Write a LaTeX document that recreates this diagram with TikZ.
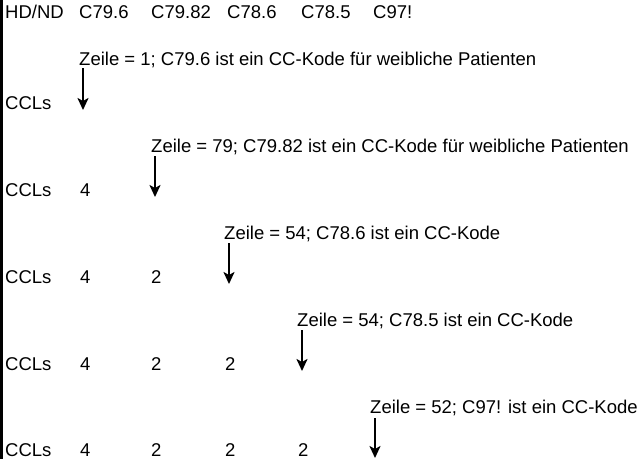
\documentclass[tikz,border=0pt]{standalone}
\usepackage{fontspec}
\setmainfont{Liberation Sans}
\usetikzlibrary{arrows.meta}
\begin{document}
\begin{tikzpicture}[x=1pt,y=-1pt,
  txt/.style={anchor=base west,inner sep=0pt,font=\fontsize{18.5}{21}\selectfont},
  ptr/.style={line width=2.6pt,-{Stealth[length=12pt,width=11pt,inset=3pt]}}]
\useasboundingbox (0,0) rectangle (640,459);
\coordinate (bt) at (1.5,0);
\coordinate (bb) at (1.5,459);
\draw[line width=2.5pt] (bt) -- (bb);
% header row
\node[txt] (h0) at (5,18) {HD/ND};
\node[txt] (h1) at (79,18) {C79.6};
\node[txt] (h2) at (151,18) {C79.82};
\node[txt] (h3) at (227,18) {C78.6};
\node[txt] (h4) at (301,18) {C78.5};
\node[txt] (h5) at (373,18) {C97!};
% annotations
\node[txt] (a1) at (79,65) {Zeile = 1; C79.6 ist ein CC-Kode für weibliche Patienten};
\node[txt] (a2) at (151,152) {Zeile = 79; C79.82 ist ein CC-Kode für weibliche Patienten};
\node[txt] (a3) at (224,239) {Zeile = 54; C78.6 ist ein CC-Kode};
\node[txt] (a4) at (297,326) {Zeile = 54; C78.5 ist ein CC-Kode};
\node[txt] (a5) at (370,413) {Zeile = 52; C97! ist ein CC-Kode};
% CCL rows
\node[txt] (r1) at (5,109) {CCLs};
\node[txt] (r2) at (5,196) {CCLs};
\node[txt] (r2a) at (80,196) {4};
\node[txt] (r3) at (5,283) {CCLs};
\node[txt] (r3a) at (80,283) {4};
\node[txt] (r3b) at (151,283) {2};
\node[txt] (r4) at (5,370) {CCLs};
\node[txt] (r4a) at (80,370) {4};
\node[txt] (r4b) at (151,370) {2};
\node[txt] (r4c) at (225,370) {2};
\node[txt] (r5) at (5,456.5) {CCLs};
\node[txt] (r5a) at (80,456.5) {4};
\node[txt] (r5b) at (151,456.5) {2};
\node[txt] (r5c) at (225,456.5) {2};
\node[txt] (r5d) at (298,456.5) {2};
% arrow ends
\coordinate (s1) at (83,68);  \coordinate (e1) at (83,110);
\coordinate (s2) at (155,156); \coordinate (e2) at (155,197);
\coordinate (s3) at (229,243); \coordinate (e3) at (229,284);
\coordinate (s4) at (302,330); \coordinate (e4) at (302,371);
\coordinate (s5) at (375,418); \coordinate (e5) at (375,458);
\draw[ptr] (s1) -- (e1);
\draw[ptr] (s2) -- (e2);
\draw[ptr] (s3) -- (e3);
\draw[ptr] (s4) -- (e4);
\draw[ptr] (s5) -- (e5);
\end{tikzpicture}
\end{document}
